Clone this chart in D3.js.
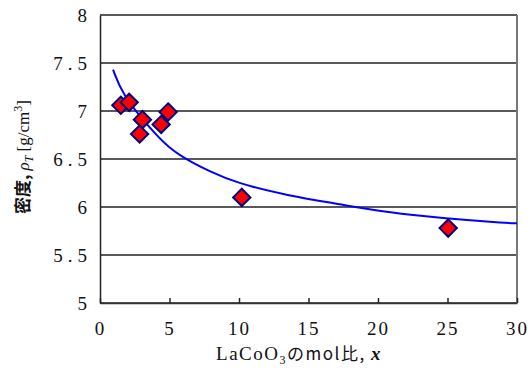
<!DOCTYPE html>
<html>
<head>
<meta charset="utf-8">
<script src="https://cdn.jsdelivr.net/npm/d3@7"></script>
<style>
  body { margin: 0; background: #fff; }
  text { font-family: "Liberation Serif", "Noto Sans CJK JP", serif; }
</style>
</head>
<body>
<script>
// measured points (x = LaCoO3 mol ratio, y = density)
var pointX = [1.5, 2.1, 3.05, 2.85, 4.9, 4.4, 10.2, 25.05];
var pointY = [7.06, 7.09, 6.91, 6.76, 6.99, 6.86, 6.10, 5.78];

// fitted curve
var curveX = [0.94, 1.61, 3.53, 4.97, 6.41, 7.86, 9.78, 13.63, 17.23, 20.12, 23.5, 26.5, 28.98, 30];
var curveY = [7.43, 7.17, 6.83, 6.61, 6.48, 6.375, 6.25, 6.115, 6.03, 5.955, 5.9, 5.862, 5.836, 5.83];

var xTicks = [0, 5, 10, 15, 20, 25, 30];
var yTicks = [5, 5.5, 6, 6.5, 7, 7.5, 8];

var width = 531,
    height = 380;

var svg = d3.select("body")
    .append("svg")
    .attr("width", width)
    .attr("height", height);

var x = d3.scaleLinear().domain([0, 30]).range([100, 517]);
var y = d3.scaleLinear().domain([5, 8]).range([303, 15]);

// horizontal grid lines
svg.selectAll("line.grid")
    .data(yTicks)
    .enter()
    .append("line")
    .attr("class", "grid")
    .attr("x1", x(0))
    .attr("x2", x(30))
    .attr("y1", d => y(d))
    .attr("y2", d => y(d))
    .attr("stroke", "#222")
    .attr("stroke-width", 1.5);

// right border
svg.append("line")
    .attr("x1", x(30)).attr("x2", x(30))
    .attr("y1", y(8)).attr("y2", y(5))
    .attr("stroke", "#777")
    .attr("stroke-width", 2);

// axes
var xAxis = d3.axisBottom(x).tickValues(xTicks).tickSize(-5).tickPadding(19).tickSizeOuter(0);
var gx = svg.append("g").attr("transform", "translate(0," + y(5) + ")").call(xAxis);
gx.select(".domain").attr("stroke", "#333").attr("stroke-width", 1.5);
gx.selectAll(".tick line").attr("stroke", "#222").attr("stroke-width", 1.5);
gx.selectAll("text")
    .attr("font-size", 19)
    .attr("letter-spacing", 2)
    .attr("fill", "#111")
    .attr("font-family", "Liberation Serif");

var yAxis = d3.axisLeft(y).tickValues(yTicks).tickFormat(d3.format("")).tickSize(0).tickPadding(8).tickSizeOuter(0);
var gy = svg.append("g").attr("transform", "translate(" + x(0) + ",0)").call(yAxis);
gy.select(".domain").attr("stroke", "#222").attr("stroke-width", 1.5);
gy.selectAll("text")
    .attr("font-size", 19)
    .attr("letter-spacing", 5)
    .attr("fill", "#111")
    .attr("font-family", "Liberation Serif")
    .attr("dy", "0.35em");

// curve
var line = d3.line()
    .x((d, i) => x(curveX[i]))
    .y((d, i) => y(curveY[i]))
    .curve(d3.curveBasis);

svg.append("path")
    .datum(curveX)
    .attr("d", line)
    .attr("fill", "none")
    .attr("stroke", "#0000ff")
    .attr("stroke-width", 2);

// diamonds
var diamond = d3.symbol().type(d3.symbolDiamond2).size(190);
svg.selectAll("path.pt")
    .data(pointX)
    .enter()
    .append("path")
    .attr("class", "pt")
    .attr("d", diamond)
    .attr("transform", (d, i) => "translate(" + x(d) + "," + y(pointY[i]) + ")")
    .attr("fill", "#ff0000")
    .attr("stroke", "#000080")
    .attr("stroke-width", 2);

// x axis title
var xt = svg.append("text")
    .attr("x", 299)
    .attr("y", 360)
    .attr("text-anchor", "middle")
    .attr("font-size", 19)
    .attr("letter-spacing", 1.5)
    .attr("fill", "#111");
xt.append("tspan").text("LaCoO");
xt.append("tspan").attr("font-size", 12).attr("dy", 4).text("3");
xt.append("tspan").attr("dy", -4).attr("font-family", "Noto Sans CJK JP").attr("font-size", 17).text("のmol比, ");
xt.append("tspan").attr("font-style", "italic").attr("font-weight", "bold").text("x");

// y axis title
var yt = svg.append("text")
    .attr("transform", "translate(29,157) rotate(-90)")
    .attr("text-anchor", "middle")
    .attr("font-size", 17)
    .attr("fill", "#111");
yt.append("tspan").attr("font-family", "Noto Sans CJK JP").attr("font-weight", "bold").text("密度, ");
yt.append("tspan").attr("font-style", "italic").text(" ρ");
yt.append("tspan").attr("font-style", "italic").attr("font-size", 12).attr("dy", 4).text("T");
yt.append("tspan").attr("dy", -4).text(" [g/cm");
yt.append("tspan").attr("font-size", 12).attr("dy", -7).text("3");
yt.append("tspan").attr("dy", 7).text("]");
</script>
</body>
</html>
